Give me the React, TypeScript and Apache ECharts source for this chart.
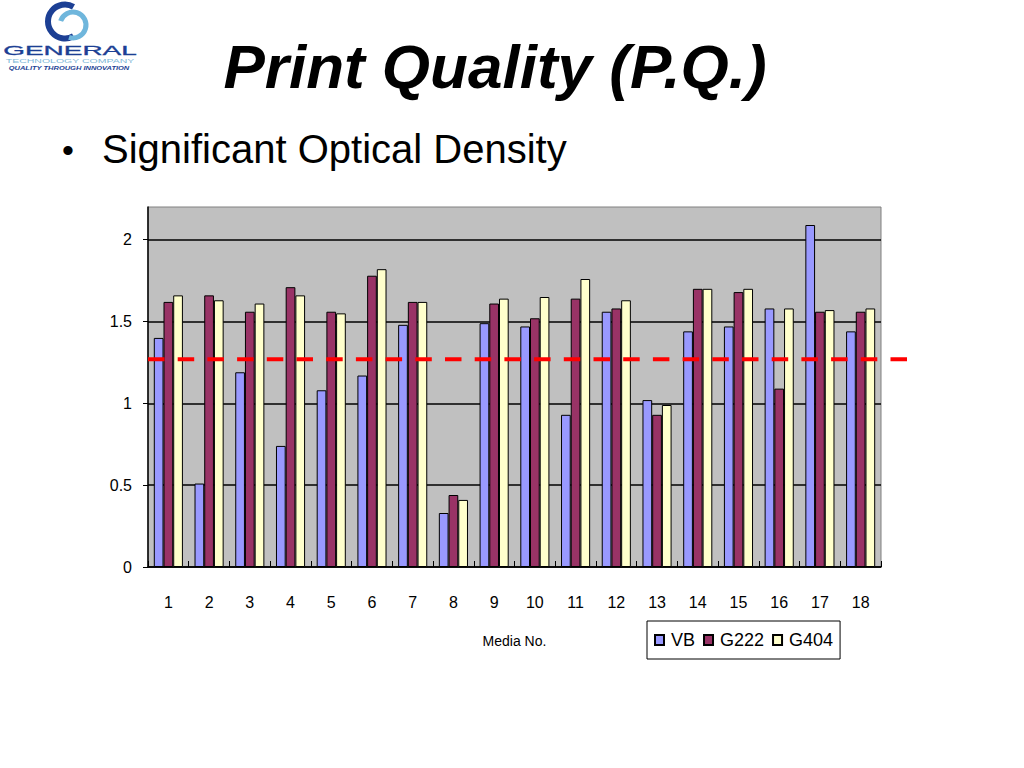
import React, { useEffect, useRef } from "react";
import * as echarts from "echarts";

const categories = ["1","2","3","4","5","6","7","8","9","10","11","12","13","14","15","16","17","18"];
const vbValues = [1.40,0.51,1.19,0.74,1.08,1.17,1.48,0.33,1.49,1.47,0.93,1.56,1.02,1.44,1.47,1.58,2.09,1.44];
const g222Values = [1.62,1.66,1.56,1.71,1.56,1.78,1.62,0.44,1.61,1.52,1.64,1.58,0.93,1.70,1.68,1.09,1.56,1.56];
const g404Values = [1.66,1.63,1.61,1.66,1.55,1.82,1.62,0.41,1.64,1.65,1.76,1.63,0.99,1.70,1.70,1.58,1.57,1.58];
const seriesNames = ["VB", "G222", "G404"];
const thresholdValue = 1.27;
const yMin = 0;
const yMax = 2.2;
const yInterval = 0.5;

const FONT = "'Liberation Sans', Arial, sans-serif";

export default function App() {
  const ref = useRef<HTMLDivElement>(null);
  useEffect(() => {
    if (!ref.current) return;
    const chart = echarts.init(ref.current, null, { renderer: "svg" });
    const barSeries = (name: string, data: number[], color: string) => ({
      name,
      type: "bar",
      data,
      barGap: "0%",
      barCategoryGap: "28.5%",
      itemStyle: { color, borderColor: "#000", borderWidth: 1 },
    });
    const logo: any[] = [
      {
        id: "logoDark", type: "arc",
        shape: { cx: 65, cy: 21.5, r: 17, startAngle: -Math.PI / 3, endAngle: Math.PI / 3, clockwise: false },
        style: { stroke: "#1c3f94", lineWidth: 6, fill: null },
      },
      {
        id: "logoLight", type: "arc",
        shape: { cx: 73, cy: 25, r: 13, startAngle: Math.PI * 1.1, endAngle: Math.PI * 2.6, clockwise: true },
        style: { stroke: "#6fb6dc", lineWidth: 5, fill: null },
      },
      {
        id: "logoText", type: "text", x: 70, y: 51, scaleX: 2.15,
        style: { text: "GENERAL", x: 0, y: 0, align: "center", verticalAlign: "middle", font: `13px ${FONT}`, fill: "#1c3f94", stroke: "#1c3f94", lineWidth: 0.3 },
      },
      {
        id: "logoSub", type: "text", x: 70, y: 61, scaleX: 1.75,
        style: { text: "TECHNOLOGY COMPANY", x: 0, y: 0, align: "center", verticalAlign: "middle", font: `6px ${FONT}`, fill: "#7fb8d8" },
      },
      {
        id: "logoTag", type: "text", x: 69, y: 68.5, scaleX: 1.5,
        style: { text: "QUALITY THROUGH INNOVATION", x: 0, y: 0, align: "center", verticalAlign: "middle", font: `italic bold 5px ${FONT}`, fill: "#1c3f94" },
      },
    ];
    const texts: any[] = [
      {
        id: "title", type: "text", x: 495, y: 66,
        style: { text: "Print Quality (P.Q.)", align: "center", verticalAlign: "middle", font: `italic bold 62px ${FONT}`, fill: "#000" },
      },
      {
        id: "bullet", type: "text", x: 68, y: 150,
        style: { text: "•", align: "center", verticalAlign: "middle", font: `34px ${FONT}`, fill: "#000" },
      },
      {
        id: "subtitle", type: "text", x: 102, y: 149,
        style: { text: "Significant Optical Density", align: "left", verticalAlign: "middle", font: `40px ${FONT}`, fill: "#000" },
      },
    ];
    const option: any = {
      animation: false,
      backgroundColor: "#fff",
      textStyle: { fontFamily: FONT },
      grid: {
        left: 148, top: 207, width: 733, height: 360,
        show: true, backgroundColor: "#c0c0c0", borderColor: "#808080", borderWidth: 1,
        containLabel: false,
      },
      legend: {
        data: seriesNames,
        left: 647, top: 621,
        orient: "horizontal",
        icon: "rect",
        itemWidth: 9, itemHeight: 10, itemGap: 8,
        padding: [10, 7, 10, 7],
        borderColor: "#000", borderWidth: 1, backgroundColor: "#fff",
        textStyle: { fontSize: 18, color: "#000", fontFamily: FONT, padding: [0, 0, 0, 2] },
      },
      xAxis: {
        type: "category",
        data: categories,
        name: "Media No.",
        nameLocation: "middle",
        nameGap: 67,
        nameTextStyle: { fontSize: 14, color: "#000", fontFamily: FONT },
        axisLine: { lineStyle: { color: "#000", width: 1.5 } },
        axisTick: { show: true, inside: true, length: 6, lineStyle: { color: "#000" } },
        axisLabel: { fontSize: 16, color: "#000", margin: 27, fontFamily: FONT },
        splitLine: { show: false },
      },
      yAxis: {
        type: "value",
        min: yMin, max: yMax, interval: yInterval,
        axisLine: { show: true, lineStyle: { color: "#000", width: 1.5 } },
        axisTick: { show: true, inside: false, length: 5, lineStyle: { color: "#000" } },
        axisLabel: {
          fontSize: 16, color: "#000", margin: 16, fontFamily: FONT, showMaxLabel: false,
          formatter: (v: number) => (Math.abs(v / yInterval - Math.round(v / yInterval)) < 1e-6 ? String(v) : ""),
        },
        splitLine: { show: true, showMaxLine: false, lineStyle: { color: "#000", width: 1.5 } },
      },
      series: [
        barSeries(seriesNames[0], vbValues, "#9999ff"),
        barSeries(seriesNames[1], g222Values, "#993366"),
        barSeries(seriesNames[2], g404Values, "#ffffcc"),
      ],
      graphic: [...logo, ...texts],
    };
    chart.setOption(option);
    const yPix = chart.convertToPixel({ yAxisIndex: 0 }, thresholdValue) as number;
    const x0 = chart.convertToPixel({ xAxisIndex: 0 }, categories[0]) as number;
    const catW = (chart.convertToPixel({ xAxisIndex: 0 }, categories[1]) as number) - x0;
    const leftEdge = x0 - catW / 2;
    chart.setOption({
      graphic: [
        ...logo,
        ...texts,
        {
          id: "threshold", type: "line", z: 100,
          shape: { x1: leftEdge, y1: yPix, x2: leftEdge + catW * 18.65, y2: yPix },
          style: { stroke: "#ff0000", lineWidth: 4, lineDash: [16.5, 13.2] },
        },
      ],
    });
    return () => chart.dispose();
  }, []);
  return <div ref={ref} style={{ position: "fixed", left: 0, top: 0, width: 1024, height: 768 }} />;
}
